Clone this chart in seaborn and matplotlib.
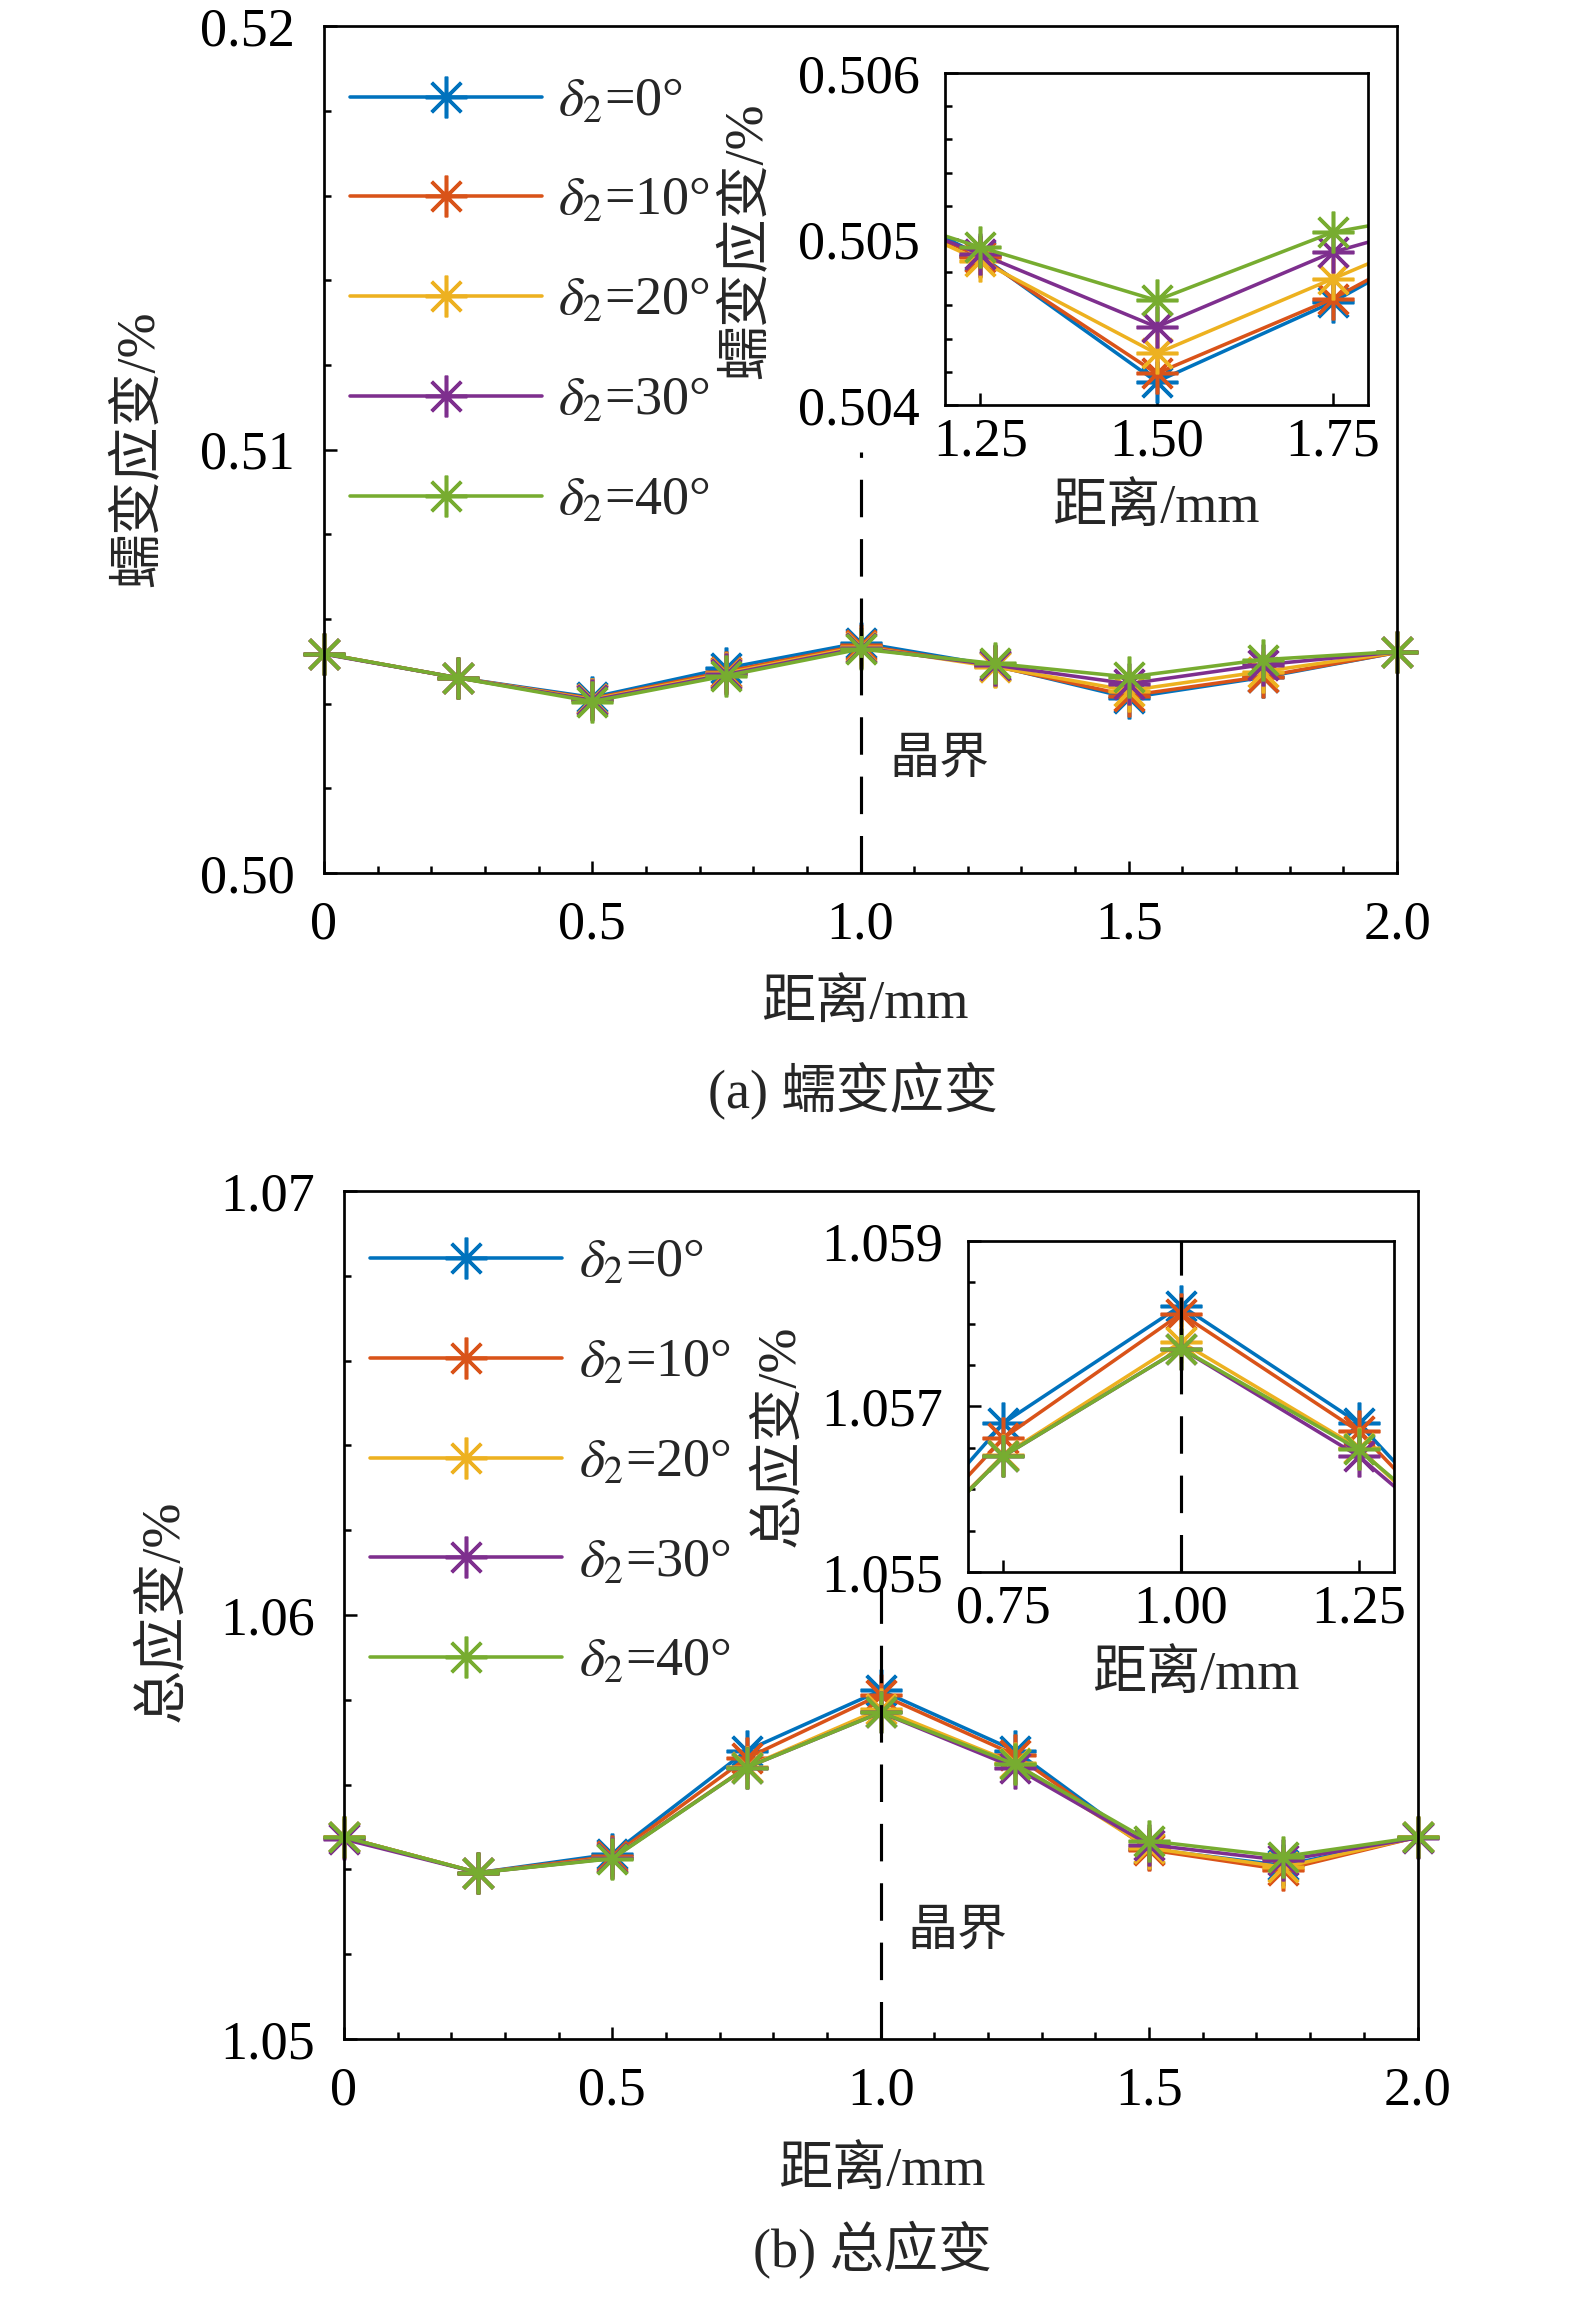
import pandas as pd
import matplotlib
matplotlib.use("Agg")
import matplotlib.pyplot as plt
from matplotlib.ticker import MultipleLocator, FixedLocator
import seaborn as sns

# ==========================
# Dados
# ==========================
distancia = [0, 0.25, 0.5, 0.75, 1.0, 1.25, 1.5, 1.75, 2.0]
rotulos = [r"$\delta_2$=0°", r"$\delta_2$=10°", r"$\delta_2$=20°",
           r"$\delta_2$=30°", r"$\delta_2$=40°"]
cores = ["#0072BD", "#D95319", "#EDB120", "#7E2F8E", "#77AC30"]

# (a) creep strain, %
creep_0 = [0.50518, 0.50461, 0.50415, 0.50484, 0.50544, 0.50490, 0.50414, 0.50462, 0.50521]
creep_10 = [0.50518, 0.50461, 0.50412, 0.50476, 0.50538, 0.50489, 0.50419, 0.50464, 0.50521]
creep_20 = [0.50518, 0.50461, 0.50410, 0.50472, 0.50535, 0.50487, 0.50431, 0.50476, 0.50521]
creep_30 = [0.50517, 0.50461, 0.50408, 0.50469, 0.50532, 0.50491, 0.50447, 0.50492, 0.50522]
creep_40 = [0.50518, 0.50461, 0.50405, 0.50466, 0.50529, 0.50495, 0.50463, 0.50504, 0.50523]

# (b) total strain, %
total_0 = [1.05476, 1.05392, 1.05436, 1.05680, 1.05822, 1.05680, 1.05448, 1.05409, 1.05476]
total_10 = [1.05476, 1.05392, 1.05431, 1.05662, 1.05812, 1.05670, 1.05446, 1.05399, 1.05476]
total_20 = [1.05476, 1.05392, 1.05427, 1.05641, 1.05778, 1.05650, 1.05450, 1.05405, 1.05476]
total_30 = [1.05471, 1.05392, 1.05426, 1.05640, 1.05770, 1.05640, 1.05458, 1.05421, 1.05474]
total_40 = [1.05476, 1.05392, 1.05425, 1.05640, 1.05770, 1.05648, 1.05467, 1.05430, 1.05476]

contorno_x = 1.0  # grain boundary


def tabela(series):
    linhas = []
    for rot, vals in zip(rotulos, series):
        for d, v in zip(distancia, vals):
            linhas.append({"dist": d, "valor": v, "angulo": rot})
    return pd.DataFrame(linhas)


df_creep = tabela([creep_0, creep_10, creep_20, creep_30, creep_40])
df_total = tabela([total_0, total_10, total_20, total_30, total_40])

# ==========================
# Estilo
# ==========================
sns.set_style("ticks")
plt.rcParams["font.family"] = ["Liberation Serif", "Noto Sans CJK SC"]
plt.rcParams["mathtext.fontset"] = "stix"
plt.rcParams["axes.linewidth"] = 1.3
plt.rcParams["axes.unicode_minus"] = False
FS = 26


def desenha(ax, df, clip=True):
    sns.lineplot(data=df, x="dist", y="valor", hue="angulo", hue_order=rotulos,
                 palette=cores, marker=(8, 2, 0), markersize=20,
                 markeredgewidth=1.7, linewidth=1.7, errorbar=None,
                 legend=False, ax=ax)
    for ln in ax.lines:
        ln.set_markeredgecolor(ln.get_color())
        ln.set_clip_on(clip)
    ax.set_xlabel("")
    ax.set_ylabel("")


def estilo_ticks(ax, padx, pady):
    ax.tick_params(which="both", direction="in", top=False, right=False,
                   labelsize=FS, width=1.2, colors="black")
    ax.tick_params(axis="x", which="both", pad=padx)
    ax.tick_params(axis="y", which="both", pad=pady)
    ax.tick_params(which="major", length=6)
    ax.tick_params(which="minor", length=3.5)
    for s in ax.spines.values():
        s.set_visible(True)
        s.set_color("black")
        s.set_linewidth(1.3)


fig = plt.figure(figsize=(10.5, 2314 / 150), dpi=150)

# ==========================
# (a) Creep strain
# ==========================
ax1 = fig.add_axes([0.2057, 0.6227, 0.6813, 0.3660])
desenha(ax1, df_creep, clip=False)
ax1.set_xlim(0, 2.0)
ax1.set_ylim(0.50, 0.52)
ax1.xaxis.set_major_locator(FixedLocator([0, 0.5, 1.0, 1.5, 2.0]))
ax1.set_xticklabels(["0", "0.5", "1.0", "1.5", "2.0"])
ax1.xaxis.set_minor_locator(MultipleLocator(0.1))
ax1.yaxis.set_major_locator(FixedLocator([0.50, 0.51, 0.52]))
ax1.set_yticklabels(["0.50", "0.51", "0.52"])
ax1.yaxis.set_minor_locator(MultipleLocator(0.002))
estilo_ticks(ax1, 13, 14)
ax1.axvline(contorno_x, ymin=0, ymax=0.4975, color="black", lw=1.5,
            dashes=(12, 7))
ax1.text(1.054, 0.50265, "晶界", fontsize=24, ha="left", va="center")
ax1.legend(ax1.lines[:5], rotulos, loc="upper left",
           bbox_to_anchor=(0.0242, 0.94), frameon=False, borderpad=0,
           borderaxespad=0, handlelength=3.55, handletextpad=0.3,
           labelspacing=0.91, fontsize=FS)

ins1 = fig.add_axes([0.600, 0.825, 0.2686, 0.1435])
desenha(ins1, df_creep)
ins1.set_xlim(1.2, 1.8)
ins1.set_ylim(0.504, 0.506)
ins1.xaxis.set_major_locator(FixedLocator([1.25, 1.5, 1.75]))
ins1.set_xticklabels(["1.25", "1.50", "1.75"])
ins1.yaxis.set_major_locator(FixedLocator([0.504, 0.505, 0.506]))
ins1.set_yticklabels(["0.504", "0.505", "0.506"])
ins1.yaxis.set_minor_locator(MultipleLocator(0.0002))
estilo_ticks(ins1, 6, 12)

fig.text(0.0889, 0.806, "蠕变应变/%", fontsize=FS, rotation=90,
         ha="center", va="center")
fig.text(0.549, 0.5652, "距离/mm", fontsize=FS, ha="center", va="center")
fig.text(0.5417, 0.5285, "(a) 蠕变应变", fontsize=FS, ha="center", va="center")
fig.text(0.475, 0.896, "蠕变应变/%", fontsize=FS, rotation=90,
         ha="center", va="center")
fig.text(0.734, 0.7796, "距离/mm", fontsize=FS, ha="center", va="center")

# ==========================
# (b) Total strain
# ==========================
ax2 = fig.add_axes([0.2184, 0.1189, 0.6816, 0.3664])
desenha(ax2, df_total, clip=False)
ax2.set_xlim(0, 2.0)
ax2.set_ylim(1.05, 1.07)
ax2.xaxis.set_major_locator(FixedLocator([0, 0.5, 1.0, 1.5, 2.0]))
ax2.set_xticklabels(["0", "0.5", "1.0", "1.5", "2.0"])
ax2.xaxis.set_minor_locator(MultipleLocator(0.1))
ax2.yaxis.set_major_locator(FixedLocator([1.05, 1.06, 1.07]))
ax2.set_yticklabels(["1.05", "1.06", "1.07"])
ax2.yaxis.set_minor_locator(MultipleLocator(0.002))
estilo_ticks(ax2, 13, 14)
ax2.axvline(contorno_x, ymin=0, ymax=0.54, color="black", lw=1.5,
            dashes=(12, 7))
ax2.text(1.049, 1.05251, "晶界", fontsize=24, ha="left", va="center")
ax2.legend(ax2.lines[:5], rotulos, loc="upper left",
           bbox_to_anchor=(0.0242, 0.944), frameon=False, borderpad=0,
           borderaxespad=0, handlelength=3.55, handletextpad=0.3,
           labelspacing=0.91, fontsize=FS)

ins2 = fig.add_axes([0.6146, 0.3207, 0.2705, 0.1430])
desenha(ins2, df_total)
ins2.set_xlim(0.7, 1.3)
ins2.set_ylim(1.055, 1.059)
ins2.xaxis.set_major_locator(FixedLocator([0.75, 1.0, 1.25]))
ins2.set_xticklabels(["0.75", "1.00", "1.25"])
ins2.yaxis.set_major_locator(FixedLocator([1.055, 1.057, 1.059]))
ins2.set_yticklabels(["1.055", "1.057", "1.059"])
ins2.yaxis.set_minor_locator(MultipleLocator(0.0005))
estilo_ticks(ins2, 6, 12)
ins2.axvline(contorno_x, color="black", lw=1.5, dashes=(12, 7))

fig.text(0.1046, 0.3038, "总应变/%", fontsize=FS, rotation=90,
         ha="center", va="center")
fig.text(0.560, 0.0609, "距离/mm", fontsize=FS, ha="center", va="center")
fig.text(0.5537, 0.0277, "(b) 总应变", fontsize=FS, ha="center", va="center")
fig.text(0.4954, 0.3794, "总应变/%", fontsize=FS, rotation=90,
         ha="center", va="center")
fig.text(0.759, 0.2753, "距离/mm", fontsize=FS, ha="center", va="center")

fig.savefig("out.png", dpi=150)
